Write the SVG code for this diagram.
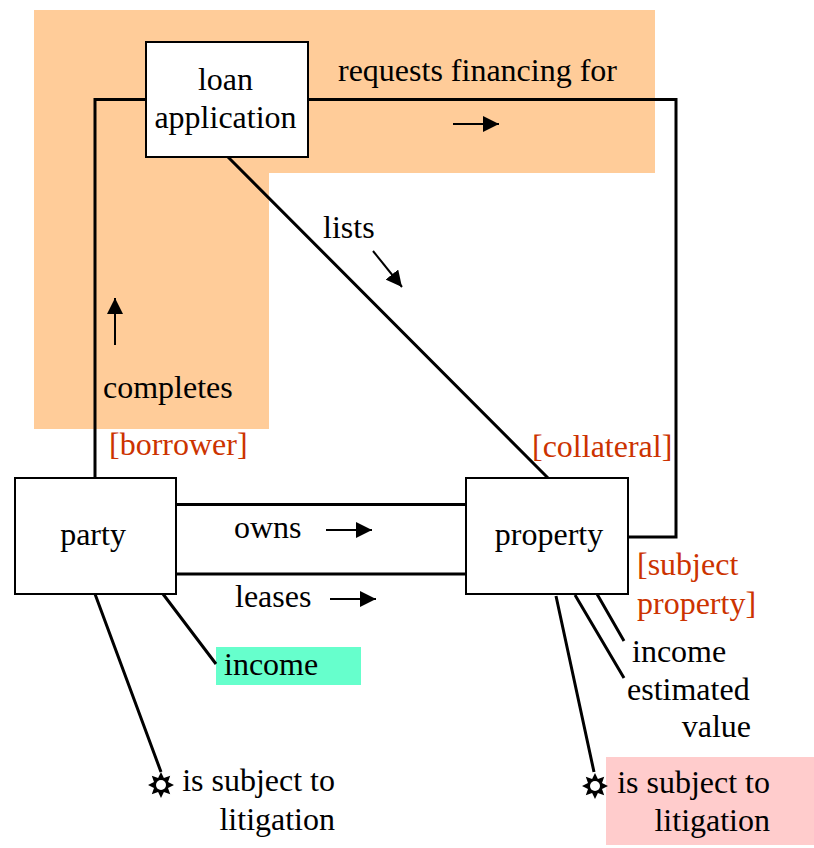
<svg xmlns="http://www.w3.org/2000/svg" width="814" height="848" viewBox="0 0 814 848">
<defs><marker id="a" viewBox="0 0 10 10" refX="10" refY="5" markerWidth="16" markerHeight="16" markerUnits="userSpaceOnUse" orient="auto" preserveAspectRatio="none"><path d="M0 0L10 5L0 10Z" fill="#000"/></marker>
<g id="sun"><path d="M0-13L2.900-7L9.200-9.200L7-2.900L13 0L7 2.900L9.200 9.200L2.900 7L0 13L-2.900 7L-9.200 9.200L-7 2.900L-13 0L-7-2.900L-9.200-9.200L-2.900-7Z" fill="#000"/><circle r="5" fill="#fff"/></g></defs>
<style>
text{font-family:"Liberation Serif","Times New Roman",serif;font-size:32px;fill:#000}
.r{fill:#cc3300}.e{text-anchor:end}.m{text-anchor:middle}
.n{fill:#fff;stroke:#000;stroke-width:2}
.c{fill:none;stroke:#000;stroke-width:3}
.s{fill:none;stroke:#000;stroke-width:2;marker-end:url(#a)}
</style>
<path d="M34 10H655V173H269V429H34Z" fill="#ffcc99"/>
<rect x="216" y="647" width="145" height="38" fill="#66ffcc"/>
<rect x="606" y="757" width="208" height="88" fill="#ffcccc"/>
<g id="connectors">
<path class="c" d="M95 478V99.500H146M308 99.500H676V537H628M228 157L548 478M176 504.500H466M176 574H466M163 594L216 664M95 594L161 772M556 596L594 772M575 595L624 678M597 594L624 641"/>
<path class="s" d="M453 124H499"/><path class="s" d="M373 251L402 287"/><path class="s" d="M115 345V298"/><path class="s" d="M326 530H372"/><path class="s" d="M330 599H376"/>
</g>
<g id="loan"><rect class="n" x="146" y="42" width="162" height="115"/><text class="m" x="225.500" y="90">loan</text><text class="m" x="225.500" y="128">application</text></g>
<g id="party"><rect class="n" x="15" y="478" width="161" height="116"/><text class="m" x="93" y="545">party</text></g>
<g id="property"><rect class="n" x="466" y="478" width="162" height="116"/><text class="m" x="549" y="545">property</text></g>
<g id="labels">
<text x="338" y="81">requests financing for</text><text x="323" y="238">lists</text><text x="103" y="398">completes</text>
<text class="r" x="109" y="455">[borrower]</text><text class="r" x="532" y="457">[collateral]</text>
<text x="234" y="538">owns</text><text x="235" y="607">leases</text>
<text class="r" x="637" y="575">[subject</text><text class="r" x="637" y="614">property]</text>
<text x="224" y="675">income</text><text x="632" y="662">income</text><text x="627" y="700">estimated</text><text class="e" x="751" y="737">value</text>
<text class="e" x="335" y="791">is subject to</text><text class="e" x="335" y="830">litigation</text>
<text class="e" x="770" y="793">is subject to</text><text class="e" x="770" y="831">litigation</text>
</g>
<use href="#sun" x="161" y="785"/><use href="#sun" x="595" y="786"/>
</svg>
